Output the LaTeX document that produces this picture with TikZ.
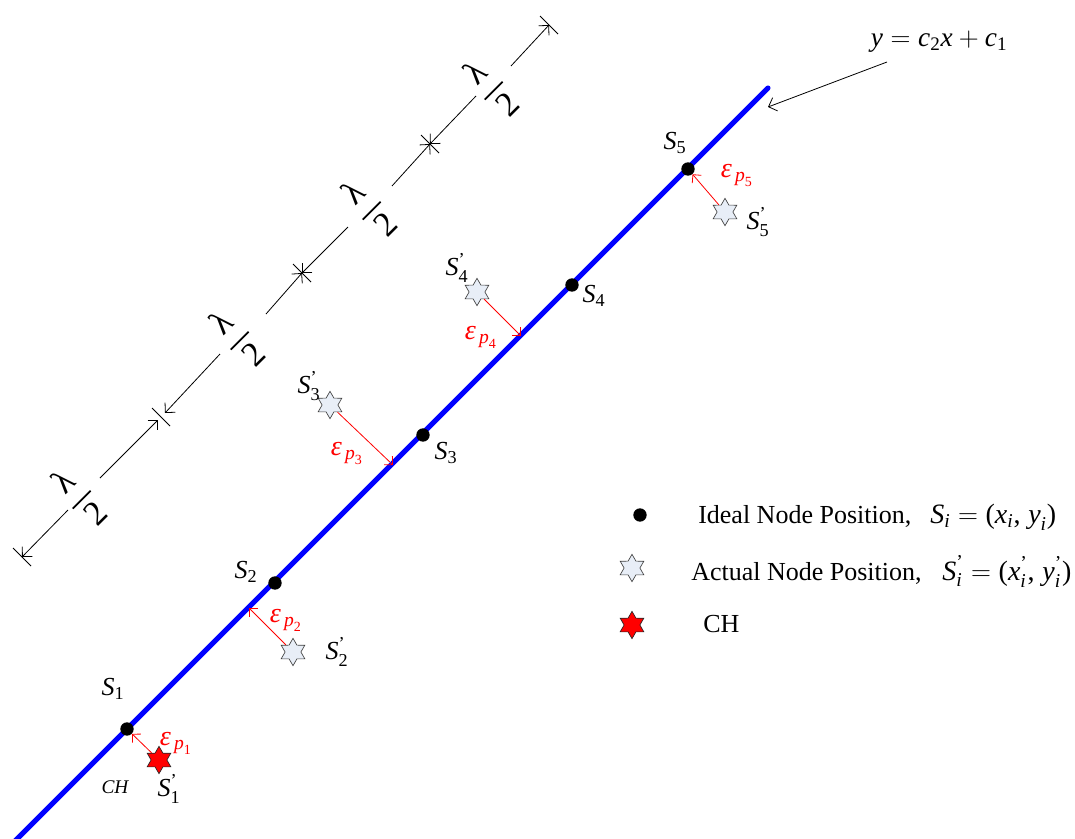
\documentclass[tikz,border=0pt]{standalone}
\usepackage{amsmath}
\usepackage{fontspec}
\setmainfont{Liberation Serif}
\usetikzlibrary{arrows.meta,shapes.geometric,calc}
\definecolor{starfill}{RGB}{232,238,247}
\definecolor{lineblue}{RGB}{0,0,255}
\newcommand{\fsz}[1]{\fontsize{#1}{#1}\selectfont}
\newcommand{\lblS}[1]{$\textit{S}_{\textrm{#1}}$}
\newcommand{\lblSp}[1]{$\textit{S}^{\textrm{'}}_{\textrm{#1}}$}
\newcommand{\lblEp}[1]{$\textit{ε}_{\,\textit{p}_{\textrm{#1}}}$}
\newcommand{\halfl}{$\genfrac{}{}{1.3pt}{0}{\textrm{\hspace{0.12em}λ\hspace{0.12em}}}{\textrm{2}}$}
\begin{document}
\begin{tikzpicture}[x=0.75pt,y=-0.75pt,
  barb/.tip={Straight Barb[length=5.3pt,width=10.6pt]},
  dimline/.style={line width=0.6pt,black},
  tickmark/.style={line width=0.6pt,black},
  blueline/.style={lineblue,line width=3.8pt,line cap=round},
  redarr/.style={red,line width=0.6pt,-{Straight Barb[length=4.5pt,width=9pt]}},
  leader/.style={black,line width=0.6pt,-{Straight Barb[length=5.3pt,width=10.6pt]}},
  ideal/.style={circle,fill=black,inner sep=0pt,minimum size=10pt},
  actual/.style={star,star points=6,star point ratio=1.73,fill=starfill,draw=black!75,line width=0.5pt,inner sep=0pt,minimum size=20.5pt},
  chstar/.style={actual,fill=red,draw=black!85},
  lbl/.style={font=\fsz{19.5},inner sep=0pt},
  eplbl/.style={text=red,font=\fsz{21},inner sep=0pt},
  halflbl/.style={font=\fsz{26},rotate=45,inner sep=0pt},
  legtxt/.style={font=\fsz{19.5},inner sep=0pt,anchor=base west},
  legmath/.style={font=\fsz{21},inner sep=0pt,anchor=base west}
]
\useasboundingbox (0,0) rectangle (1075,839);

% ---------- dimension line ----------
\coordinate (T0) at (22,557);
\coordinate (T1) at (161,417);
\coordinate (T1a) at (158,420);
\coordinate (T1b) at (165,413);
\coordinate (T2) at (302,273);
\coordinate (T3) at (430,144);
\coordinate (T4) at (549,25);
\coordinate (g1a) at (68,510);  \coordinate (g1b) at (100,478);
\coordinate (g2a) at (220,354); \coordinate (g2b) at (266,314);
\coordinate (g3a) at (348,227); \coordinate (g3b) at (392,186);
\coordinate (g4a) at (476,96);  \coordinate (g4b) at (511,66);

\draw[dimline,barb-] (T0) -- (g1a);
\draw[dimline,-barb] (g1b) -- (T1a);
\draw[dimline,barb-] (T1b) -- (g2a);
\draw[dimline,-barb] (g2b) -- (T2);
\draw[dimline,barb-] (T2) -- (g3a);
\draw[dimline,-barb] (g3b) -- (T3);
\draw[dimline,barb-] (T3) -- (g4a);
\draw[dimline,-barb] (g4b) -- (T4);

\foreach \t in {T0,T1,T2,T3,T4}
  \draw[tickmark] ($(\t)+(-9,-9)$) -- ($(\t)+(9,9)$);

\node[halflbl] (h1) at (79,497) {\halfl};
\node[halflbl] (h2) at (237,338) {\halfl};
\node[halflbl] (h3) at (369,208) {\halfl};
\node[halflbl] (h4) at (491,88) {\halfl};

% ---------- main line ----------
\coordinate (B0) at (768,88);
\coordinate (B1) at (4,852);
\draw[blueline] (B0) -- (B1);

% ideal positions
\node[ideal] (s1) at (127,729) {};
\node[ideal] (s2) at (275,583) {};
\node[ideal] (s3) at (423,435) {};
\node[ideal] (s4) at (572,285) {};
\node[ideal] (s5) at (688,169) {};

% actual positions
\node[chstar] (s1p) at (159,760) {};
\node[actual] (s2p) at (293,652) {};
\node[actual] (s3p) at (330,405) {};
\node[actual] (s4p) at (477,292) {};
\node[actual] (s5p) at (725,212) {};

% feet of perpendiculars
\coordinate (f2) at (249,608);
\coordinate (f3) at (393,465);
\coordinate (f4) at (521,336);

\draw[redarr] (s1p) -- (s1);
\draw[redarr] (s2p) -- (f2);
\draw[redarr] (s3p) -- (f3);
\draw[redarr] (s4p) -- (f4);
\draw[redarr] (s5p) -- (s5);

% labels
\node[lbl] (l1) at (113,689) {\lblS{1}};
\node[lbl] (l2) at (246,572) {\lblS{2}};
\node[lbl] (l3) at (446,453) {\lblS{3}};
\node[lbl] (l4) at (594,296) {\lblS{4}};
\node[lbl] (l5) at (675,143) {\lblS{5}};

\node[lbl] (l1p) at (169,789) {\lblSp{1}};
\node[lbl] (l2p) at (337,652) {\lblSp{2}};
\node[lbl] (l3p) at (309,386) {\lblSp{3}};
\node[lbl] (l4p) at (457,268) {\lblSp{4}};
\node[lbl] (l5p) at (758,222) {\lblSp{5}};

\node[eplbl] (e1) at (176,743) {\lblEp{1}};
\node[eplbl] (e2) at (286,620) {\lblEp{2}};
\node[eplbl] (e3) at (347,453) {\lblEp{3}};
\node[eplbl] (e4) at (481,337) {\lblEp{4}};
\node[eplbl] (e5) at (737,175) {\lblEp{5}};

\node[font=\fsz{14.5}\itshape,inner sep=0pt] (chl) at (115,787) {CH};

% equation
\node[font=\fsz{20.5},inner sep=0pt] (eq) at (939,42) {$\textit{y} = \textit{c}_{\textrm{2}}\textit{x} + \textit{c}_{\textrm{1}}$};
\coordinate (eqtail) at (887,62);
\coordinate (eqhead) at (768,107);
\draw[leader] (eqtail) -- (eqhead);

% legend
\node[ideal] (ldot) at (640,515) {};
\node[actual] (lstar) at (632,568) {};
\node[chstar] (lch) at (632,625) {};
\node[legtxt] (t1) at (698,523) {Ideal Node Position,};
\node[legtxt] (t2) at (691,580) {Actual Node Position,};
\node[legtxt] (t3) at (703,632) {CH};
\node[legmath] (m1) at (930,523) {$\textit{S}_{\textit{i}} = \textrm{(}\textit{x}_{\textit{i}}\textrm{,\;}\textit{y}_{\textit{i}}\textrm{)}$};
\node[legmath] (m2) at (942,580) {$\textit{S}^{\textrm{'}}_{\textit{i}} = \textrm{(}\textit{x}^{\textrm{'}}_{\textit{i}}\textrm{,\;}\textit{y}^{\textrm{'}}_{\textit{i}}\textrm{)}$};
\end{tikzpicture}
\end{document}
